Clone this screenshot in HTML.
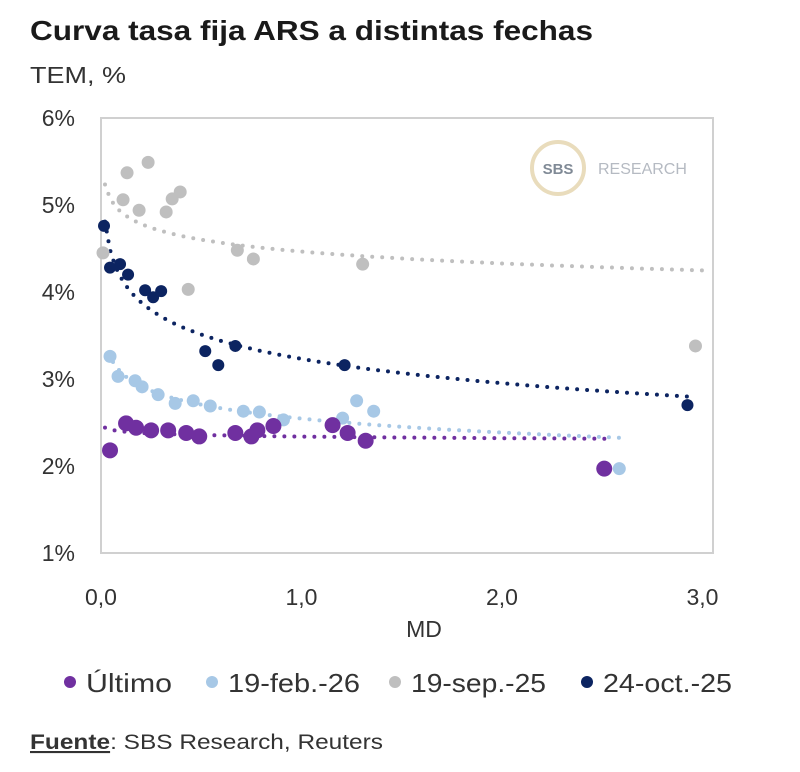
<!DOCTYPE html>
<html><head><meta charset="utf-8"><style>
html,body{margin:0;padding:0;background:#fff;}
svg{display:block;font-family:"Liberation Sans",sans-serif;}
</style></head><body>
<svg id="chart" width="800" height="772" viewBox="0 0 800 772">
<text x="30" y="40" font-size="28" font-weight="bold" fill="#1a1a1a" textLength="563" lengthAdjust="spacingAndGlyphs">Curva tasa fija ARS a distintas fechas</text>
<text x="30" y="83" font-size="23" fill="#333" textLength="96" lengthAdjust="spacingAndGlyphs">TEM, %</text>
<rect x="101" y="118" width="612" height="435" fill="none" stroke="#d0d0d0" stroke-width="2"/>
<g>
<circle cx="558" cy="168" r="26" fill="#fff" stroke="#e9dcbc" stroke-width="4"/>
<text x="558" y="174" font-size="15" font-weight="bold" fill="#808a96" text-anchor="middle">SBS</text>
<text x="598" y="174" font-size="16" fill="#b5bac2">RESEARCH</text>
</g>
<g id="ticks"></g>
<g id="trends"></g>
<g id="points"></g>
<text x="424" y="637" font-size="23" fill="#333" text-anchor="middle">MD</text>
<g font-size="26" fill="#333">
<g><circle cx="70" cy="682" r="6" fill="#7030a0"/><text x="86" y="692" textLength="86" lengthAdjust="spacingAndGlyphs">Último</text></g>
<g><circle cx="212" cy="682" r="6" fill="#a7c8e6"/><text x="228" y="692" textLength="132" lengthAdjust="spacingAndGlyphs">19-feb.-26</text></g>
<g><circle cx="395" cy="682" r="6" fill="#bfbfbf"/><text x="411" y="692" textLength="135" lengthAdjust="spacingAndGlyphs">19-sep.-25</text></g>
<g><circle cx="587" cy="682" r="6" fill="#0c2461"/><text x="603" y="692" textLength="129" lengthAdjust="spacingAndGlyphs">24-oct.-25</text></g>
</g>
<text x="30" y="749" font-size="21" fill="#333" textLength="353" lengthAdjust="spacingAndGlyphs"><tspan font-weight="bold" text-decoration="underline">Fuente</tspan>: SBS Research, Reuters</text>
</svg>
<script>
const yTicks = [1,2,3,4,5,6];
const xTicks = [0,1,2,3];
const yTickLabels = ["1%","2%","3%","4%","5%","6%"];
const xTickLabels = ["0,0","1,0","2,0","3,0"];
const seriesNames = ["Último","19-feb.-26","19-sep.-25","24-oct.-25"];
const greyX = [0.01,0.13,0.235,0.11,0.19,0.325,0.355,0.395,0.435,0.68,0.76,1.305,2.965];
const greyY = [4.45,5.37,5.49,5.06,4.94,4.92,5.07,5.15,4.03,4.48,4.38,4.32,3.38];
const navyX = [0.015,0.045,0.095,0.135,0.22,0.26,0.30,0.52,0.585,0.67,1.215,2.925];
const navyY = [4.76,4.28,4.32,4.20,4.02,3.94,4.01,3.32,3.16,3.38,3.16,2.70];
const lblueX = [0.045,0.085,0.17,0.205,0.285,0.37,0.46,0.545,0.71,0.79,0.91,1.205,1.275,1.36,2.585];
const lblueY = [3.26,3.03,2.98,2.91,2.82,2.72,2.75,2.69,2.63,2.62,2.53,2.55,2.75,2.63,1.97];
const purpleX = [0.045,0.125,0.175,0.25,0.335,0.425,0.49,0.67,0.75,0.78,0.86,1.155,1.23,1.32,2.51];
const purpleY = [2.18,2.49,2.44,2.41,2.41,2.38,2.34,2.38,2.34,2.41,2.46,2.47,2.38,2.29,1.97];

const NS = "http://www.w3.org/2000/svg";
const xs = v => 101 + v * 200.5;
const ys = v => 553 - (v - 1) * 87;

const tg = document.getElementById('ticks');
yTicks.forEach((t,i)=>{
  const e = document.createElementNS(NS,'text');
  e.setAttribute('x', 75); e.setAttribute('y', ys(t)+8);
  e.setAttribute('font-size','23'); e.setAttribute('fill','#333'); e.setAttribute('text-anchor','end');
  e.textContent = yTickLabels[i];
  
  
  tg.appendChild(e);
});
xTicks.forEach((t,i)=>{
  const e = document.createElementNS(NS,'text');
  e.setAttribute('x', xs(t)); e.setAttribute('y', 605);
  e.setAttribute('font-size','23'); e.setAttribute('fill','#333'); e.setAttribute('text-anchor','middle');
  e.textContent = xTickLabels[i];
  
  
  tg.appendChild(e);
});

const series = [
  {x:greyX, y:greyY, c:'#bfbfbf', r:6.5, key:'19-sep-25', x0:0.02, x1:3.0},
  {x:lblueX, y:lblueY, c:'#a7c8e6', r:6.5, key:'19-feb-26', x0:0.06, x1:2.6},
  {x:navyX, y:navyY, c:'#0c2461', r:6, key:'24-oct-25', x0:0.02, x1:2.93},
  {x:purpleX, y:purpleY, c:'#7030a0', r:8, key:'ultimo', x0:0.02, x1:2.55}
];
const trg = document.getElementById('trends');
const pg = document.getElementById('points');
series.forEach(s=>{
  const n = s.x.length; let sl=0, sy=0, sll=0, sly=0;
  for(let i=0;i<n;i++){const l=Math.log(s.x[i]); sl+=l; sy+=s.y[i]; sll+=l*l; sly+=l*s.y[i];}
  const b = (n*sly - sl*sy)/(n*sll - sl*sl), a = (sy - b*sl)/n;
  const lo = s.x0;
  let d = '';
  for(let k=0;k<=120;k++){
    const xv = lo + (s.x1-lo)*k/120;
    d += (k?'L':'M') + xs(xv).toFixed(1) + ' ' + ys(a + b*Math.log(xv)).toFixed(1);
  }
  const p = document.createElementNS(NS,'path');
  p.setAttribute('d', d); p.setAttribute('fill','none'); p.setAttribute('stroke', s.c);
  p.setAttribute('stroke-width','4'); p.setAttribute('stroke-linecap','round'); p.setAttribute('stroke-dasharray','0 10');
  
  
  trg.appendChild(p);
  for(let i=0;i<n;i++){
    const c = document.createElementNS(NS,'circle');
    c.setAttribute('cx', xs(s.x[i])); c.setAttribute('cy', ys(s.y[i])); c.setAttribute('r', s.r);
    c.setAttribute('fill', s.c);
    
    
    pg.appendChild(c);
  }
});
</script>
</body></html>
